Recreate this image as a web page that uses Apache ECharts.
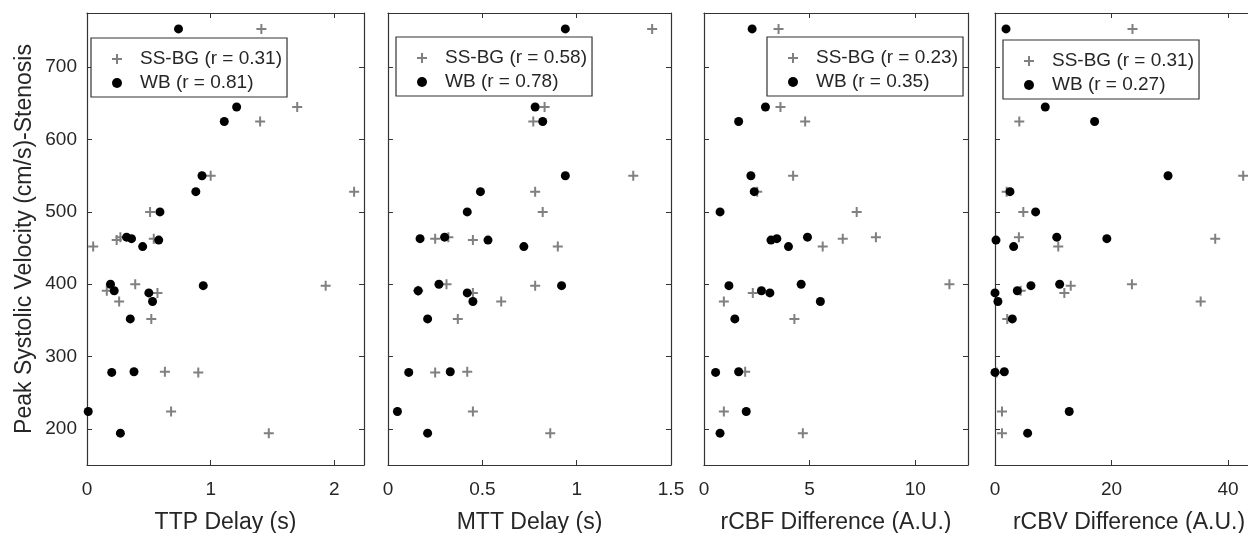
<!DOCTYPE html>
<html>
<head>
<meta charset="utf-8">
<title>PSV vs perfusion delays</title>
<script src="https://cdn.jsdelivr.net/npm/echarts@6/dist/echarts.min.js"></script>
<style>
    html, body { margin: 0; padding: 0; background: #fff; }
    #chart { width: 1248px; height: 533px; }
</style>
</head>
<body>
<div id="chart"></div>
<script>
// [x, peak systolic velocity] for each patient
var ttpSS = [[1.41, 753], [1.70, 645], [1.40, 625], [1.00, 550], [2.16, 528], [0.51, 500], [0.27, 465],
    [0.54, 463], [0.24, 461], [0.05, 452], [0.39, 400], [1.93, 398], [0.16, 391], [0.57, 388], [0.26, 376],
    [0.52, 352], [0.63, 279], [0.90, 278], [0.68, 224], [1.47, 194]];
var ttpWB = [[0.74, 753], [1.21, 645], [1.11, 625], [0.93, 550], [0.88, 528], [0.59, 500], [0.32, 465],
    [0.36, 463], [0.58, 461], [0.45, 452], [0.19, 400], [0.94, 398], [0.22, 391], [0.50, 388], [0.53, 376],
    [0.35, 352], [0.38, 279], [0.20, 278], [0.01, 224], [0.27, 194]];

var mttSS = [[1.40, 753], [0.83, 645], [0.77, 625], [1.30, 550], [0.78, 528], [0.82, 500], [0.32, 465],
    [0.25, 463], [0.45, 461], [0.90, 452], [0.31, 400], [0.78, 398], [0.16, 391], [0.45, 388], [0.60, 376],
    [0.37, 352], [0.42, 279], [0.25, 278], [0.45, 224], [0.86, 194]];
var mttWB = [[0.94, 753], [0.78, 645], [0.82, 625], [0.94, 550], [0.49, 528], [0.42, 500], [0.30, 465],
    [0.17, 463], [0.53, 461], [0.72, 452], [0.27, 400], [0.92, 398], [0.16, 391], [0.42, 388], [0.45, 376],
    [0.21, 352], [0.33, 279], [0.11, 278], [0.05, 224], [0.21, 194]];

var cbfSS = [[3.53, 753], [3.62, 645], [4.79, 625], [4.22, 550], [2.52, 528], [7.23, 500], [8.14, 465],
    [6.57, 463], [5.62, 452], [11.62, 400], [2.31, 388], [0.94, 376], [4.28, 352], [1.95, 279],
    [0.94, 224], [4.68, 194]];
var cbfWB = [[2.28, 753], [2.91, 645], [1.64, 625], [2.22, 550], [2.38, 528], [0.76, 500], [4.90, 465],
    [3.45, 463], [3.17, 461], [4.00, 452], [4.60, 400], [1.18, 398], [2.72, 391], [3.12, 388], [5.51, 376],
    [1.46, 352], [1.64, 279], [0.55, 278], [2.00, 224], [0.76, 194]];

var cbvSS = [[23.6, 753], [4.17, 625], [42.6, 550], [2.0, 528], [4.86, 500], [4.1, 465], [37.8, 463],
    [10.86, 452], [23.5, 400], [13.0, 398], [4.4, 391], [11.9, 388], [35.3, 376], [2.1, 352], [0.3, 278],
    [1.2, 224], [1.2, 194]];
var cbvWB = [[1.89, 753], [8.63, 645], [17.1, 625], [29.7, 550], [2.57, 528], [6.97, 500], [10.6, 465],
    [19.2, 463], [0.17, 461], [3.2, 452], [11.1, 400], [6.17, 398], [3.83, 391], [0.0, 388], [0.5, 376],
    [2.97, 352], [1.6, 279], [0.0, 278], [12.74, 224], [5.6, 194]];

var panelTitles = ['TTP Delay (s)', 'MTT Delay (s)', 'rCBF Difference (A.U.)', 'rCBV Difference (A.U.)'];
var ssNames = ['SS-BG (r = 0.31)', 'SS-BG (r = 0.58)', 'SS-BG (r = 0.23)', 'SS-BG (r = 0.31)'];
var wbNames = ['WB (r = 0.81)', 'WB (r = 0.78)', 'WB (r = 0.35)', 'WB (r = 0.27)'];
var xMax = [2.24, 1.5, 12.5, 46];
var xTicks = [[0, 1, 2], [0, 0.5, 1, 1.5], [0, 5, 10], [0, 20, 40]];
var yTicks = [200, 300, 400, 500, 600, 700];

var ssData = [ttpSS, mttSS, cbfSS, cbvSS];
var wbData = [ttpWB, mttWB, cbfWB, cbvWB];

// panel placement in pixels (the last one runs off the right edge like the source)
var panelLeft = [87, 388, 704, 995];
var panelWidth = [277, 283, 264, 268];
var legendPos = [[91, 38], [396, 37], [767, 37], [1003, 40]];

var FONT = 'Liberation Sans, Arial, Helvetica, sans-serif';
var AXIS = '#333333';
var GREY = '#808080';
var PLUS = 'path://M4,0H6V4H10V6H6V10H4V6H0V4H4Z';

var chart = echarts.init(document.getElementById('chart'), null, { renderer: 'canvas' });

var grids = [], xAxes = [], yAxes = [], series = [], legends = [];

function boxLine() {
    return { show: true, onZero: false, lineStyle: { color: AXIS, width: 1.2 } };
}

for (var i = 0; i < 4; i++) {
    // outerBoundsMode none: keep the exact pixel box, let panel 4 run off the canvas
    grids.push({ left: panelLeft[i], width: panelWidth[i], top: 13, height: 452, outerBoundsMode: 'none' });

    // bottom axis with labels
    xAxes.push({
        type: 'value', gridIndex: i, position: 'bottom', min: 0, max: xMax[i],
        name: panelTitles[i], nameLocation: 'middle', nameGap: 46,
        nameTextStyle: { fontFamily: FONT, fontSize: 23, color: '#262626' },
        axisLine: boxLine(),
        axisTick: { show: true, inside: true, length: 5, lineStyle: { color: AXIS }, customValues: xTicks[i] },
        axisLabel: { show: true, margin: 15, fontFamily: FONT, fontSize: 19, color: '#262626', customValues: xTicks[i] },
        splitLine: { show: false }
    });
    // top axis, ticks only
    xAxes.push({
        type: 'value', gridIndex: i, position: 'top', min: 0, max: xMax[i],
        axisLine: boxLine(),
        axisTick: { show: true, inside: true, length: 5, lineStyle: { color: AXIS }, customValues: xTicks[i] },
        axisLabel: { show: false },
        splitLine: { show: false }
    });

    yAxes.push({
        type: 'value', gridIndex: i, position: 'left', min: 150, max: 775,
        name: i === 0 ? 'Peak Systolic Velocity (cm/s)-Stenosis' : '',
        nameLocation: 'middle', nameGap: 51,
        nameTextStyle: { fontFamily: FONT, fontSize: 23, color: '#262626' },
        axisLine: boxLine(),
        axisTick: { show: true, inside: true, length: 5, lineStyle: { color: AXIS }, customValues: yTicks },
        axisLabel: { show: i === 0, margin: 10, fontFamily: FONT, fontSize: 19, color: '#262626', customValues: yTicks },
        splitLine: { show: false }
    });
    yAxes.push({
        type: 'value', gridIndex: i, position: 'right', min: 150, max: 775,
        axisLine: boxLine(),
        axisTick: { show: true, inside: true, length: 5, lineStyle: { color: AXIS }, customValues: yTicks },
        axisLabel: { show: false },
        splitLine: { show: false }
    });

    series.push({
        name: ssNames[i], type: 'scatter', xAxisIndex: i * 2, yAxisIndex: i * 2,
        symbol: PLUS, symbolSize: 10,
        itemStyle: { color: GREY, opacity: 1 },
        data: ssData[i]
    });
    series.push({
        name: wbNames[i], type: 'scatter', xAxisIndex: i * 2, yAxisIndex: i * 2,
        symbol: 'circle', symbolSize: 9,
        itemStyle: { color: '#000000', opacity: 1 },
        data: wbData[i]
    });

    legends.push({
        orient: 'vertical', left: legendPos[i][0], top: legendPos[i][1],
        padding: [11, 5, 4, 21], itemGap: 4, itemWidth: 10, itemHeight: 10,
        borderColor: AXIS, borderWidth: 1.2, backgroundColor: '#fff',
        selectedMode: false,
        textStyle: { fontFamily: FONT, fontSize: 19, lineHeight: 20, color: '#262626', padding: [0, 0, 0, 13] },
        data: [
            { name: ssNames[i], icon: PLUS, itemStyle: { color: GREY, opacity: 1 } },
            { name: wbNames[i], icon: 'circle', itemStyle: { color: '#000000', opacity: 1 } }
        ]
    });
}

var option = {
    animation: false,
    backgroundColor: '#ffffff',
    grid: grids,
    xAxis: xAxes,
    yAxis: yAxes,
    legend: legends,
    series: series
};

chart.setOption(option);
</script>
</body>
</html>
